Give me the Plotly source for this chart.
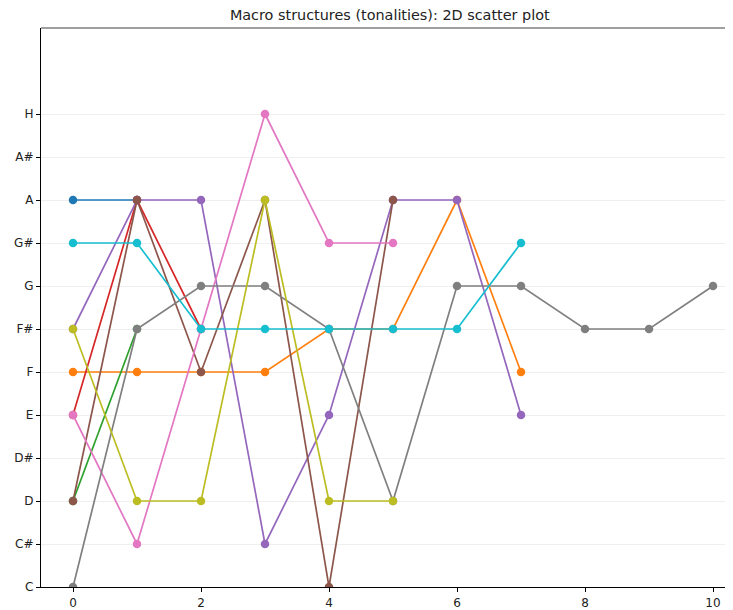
import plotly.graph_objects as go

notes = ["C", "C#", "D", "D#", "E", "F", "F#", "G", "G#", "A", "A#", "H"]

series_blue = ["A", "A"]
series_orange = ["F", "F", "F", "F", "F#", "F#", "A", "F"]
series_green = ["D", "F#"]
series_red = ["E", "A", "F#"]
series_purple = ["F#", "A", "A", "C#", "E", "A", "A", "E"]
series_brown = ["D", "A", "F", "A", "C", "A"]
series_pink = ["E", "C#", "F#", "H", "G#", "G#"]
series_gray = ["C", "F#", "G", "G", "F#", "D", "G", "G", "F#", "F#", "G"]
series_olive = ["F#", "D", "D", "A", "D", "D"]
series_cyan = ["G#", "G#", "F#", "F#", "F#", "F#", "F#", "G#"]

all_series = [
    (series_blue, "#1f77b4"),
    (series_orange, "#ff7f0e"),
    (series_green, "#2ca02c"),
    (series_red, "#d62728"),
    (series_purple, "#9467bd"),
    (series_brown, "#8c564b"),
    (series_pink, "#e377c2"),
    (series_gray, "#7f7f7f"),
    (series_olive, "#bcbd22"),
    (series_cyan, "#17becf"),
]

fig = go.Figure()
for vals, color in all_series:
    fig.add_trace(go.Scatter(
        x=list(range(len(vals))),
        y=[notes.index(v) for v in vals],
        mode="lines+markers",
        line=dict(color=color, width=1.7),
        marker=dict(color=color, size=8.5),
        showlegend=False,
    ))

# page body has ~8px margin; figure sized to fit the window
W, H = 725, 602
fig.update_layout(
    width=W, height=H,
    margin=dict(l=33, r=0, t=20, b=23),
    paper_bgcolor="white", plot_bgcolor="white",
    font=dict(family="DejaVu Sans", size=12, color="#222"),
    title=dict(text="Macro structures (tonalities): 2D scatter plot",
               x=0.504, xref="paper", xanchor="center",
               y=1 - 7 / H, yref="container", yanchor="middle",
               font=dict(size=14.4, color="#222")),
    xaxis=dict(range=[-0.5, 10.3125], tickvals=[0, 2, 4, 6, 8, 10],
               showgrid=False, zeroline=False, showline=True,
               linecolor="black", linewidth=1.3, ticks="outside",
               ticklen=4, tickcolor="black"),
    yaxis=dict(range=[0, 13], tickvals=list(range(len(notes))), ticktext=notes,
               showgrid=True, gridcolor="#efefef", gridwidth=1,
               zeroline=False, showline=True, linecolor="black", linewidth=1.3,
               ticks="outside", ticklen=4, tickcolor="black"),
    shapes=[dict(type="line", xref="paper", yref="paper", x0=0, x1=1, y0=1, y1=1,
                 line=dict(color="#808080", width=1.5))],
)

fig.write_html("out.html")
